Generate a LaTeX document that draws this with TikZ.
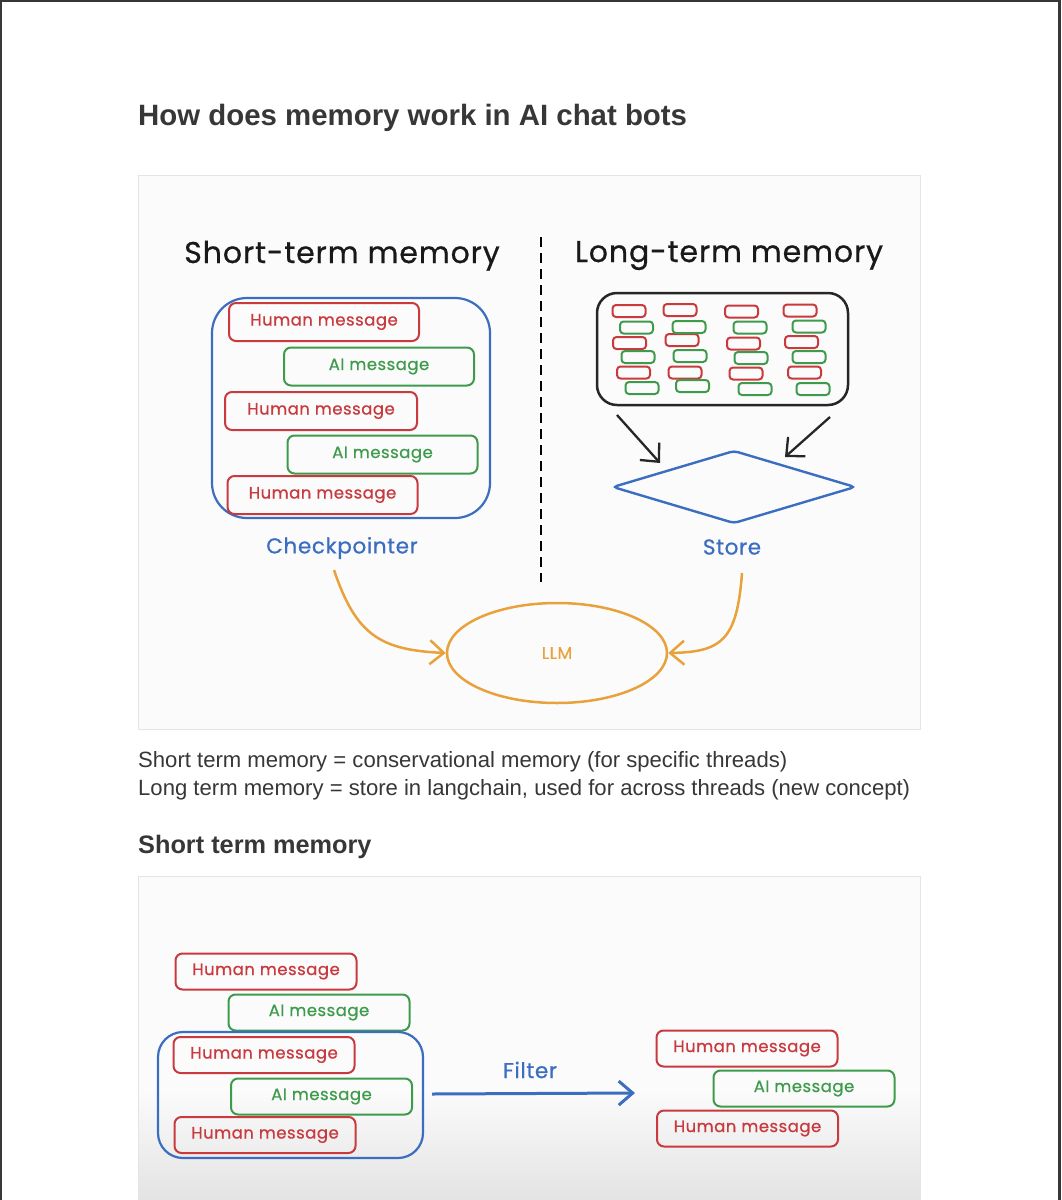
\documentclass[tikz,border=0pt]{standalone}
\usepackage{fontspec}
\setmainfont{Liberation Sans}
\newfontfamily\hand[FakeBold=0.7,LetterSpace=3]{Poppins}
\usetikzlibrary{shapes.geometric,arrows.meta}
\definecolor{msgred}{HTML}{C93A3F}
\definecolor{msggreen}{HTML}{3F9B4C}
\definecolor{sketchblue}{HTML}{3B6DC0}
\definecolor{sketchorange}{HTML}{E9A23B}
\definecolor{pagetext}{HTML}{373737}
\definecolor{frameline}{HTML}{E4E4E4}
\definecolor{imgbg}{HTML}{FBFBFB}
\begin{document}
\begin{tikzpicture}[x=1pt,y=-1pt,
  hmsg/.style={draw=msgred,text=msgred,line width=2pt,rounded corners=7pt,minimum width=190pt,minimum height=38pt,inner sep=0pt,font=\hand\fontsize{16.5}{18}\selectfont},
  amsg/.style={hmsg,draw=msggreen,text=msggreen},
  hmsgb/.style={hmsg,minimum width=181pt,minimum height=36pt},
  amsgb/.style={amsg,minimum width=181pt,minimum height=36pt},
  container/.style={draw=sketchblue,line width=2.2pt,inner sep=0pt},
  rbar/.style={draw=msgred,line width=2pt,rounded corners=3.5pt,minimum width=33pt,minimum height=12pt,inner sep=0pt},
  gbar/.style={rbar,draw=msggreen},
  handtitle/.style={font=\hand\fontsize{30}{32}\selectfont,text=black!90,anchor=base,inner sep=0pt},
  bluelabel/.style={font=\hand\fontsize{21.5}{24}\selectfont,text=sketchblue,inner sep=0pt},
  blackarrow/.style={line width=2.3pt,draw=black!85,-{Straight Barb[length=14pt,width=26pt]}},
  orangearrow/.style={line width=2.5pt,draw=sketchorange,-{Straight Barb[length=14pt,width=24pt]}},
  bluearrow/.style={line width=3pt,draw=sketchblue,-{Straight Barb[length=14pt,width=24pt]}},
  imgframe/.style={draw=frameline,line width=1pt},
  pagebody/.style={font=\fontsize{22.1}{24}\selectfont,text=pagetext,anchor=base west,inner sep=0pt},
  pagehead/.style={font=\bfseries\fontsize{25.3}{28}\selectfont,text=pagetext,anchor=base west,inner sep=0pt}
]
\useasboundingbox (0,0) rectangle (1061,1200);
\fill[white] (0,0) rectangle (1061,1200);
% page frame
\draw[line width=2.5pt,draw=pagetext] (1.2,1200) -- (1.2,1.2) -- (1059.5,1.2) -- (1059.5,1200);

% title
\node[font=\bfseries\fontsize{29.4}{32}\selectfont,text=pagetext,anchor=base west,inner sep=0pt] (title) at (138,125) {How does memory work in AI chat bots};

% ---------- image 1 ----------
\fill[imgbg] (138,175) rectangle (920,729);
\draw[imgframe] (138,175) rectangle (920,729);

\node[handtitle] (stitle) at (342,263) {Short-term memory};
\node[handtitle] (ltitle) at (729,262) {Long-term memory};
\coordinate (dtop) at (541,237);
\coordinate (dbot) at (541,582);
\draw[line width=2.3pt,dash pattern=on 10pt off 6pt] (dtop) -- (dbot);

\node[container,rounded corners=35pt,minimum width=278pt,minimum height=220pt] (stm) at (351,408) {};
\node[hmsg] (h1) at (324,322) {Human message};
\node[amsg] (a1) at (379,366.5) {AI message};
\node[hmsg,minimum width=192pt] (h2) at (321,411) {Human message};
\node[amsg] (a2) at (382.5,454.5) {AI message};
\node[hmsg] (h3) at (322.5,495) {Human message};
\node[bluelabel] (ckpt) at (342,548) {Checkpointer};

% long-term store
\node[draw=black!85,line width=2.5pt,rounded corners=20pt,minimum width=251pt,minimum height=112pt,inner sep=0pt] (ltm) at (722.5,349) {};
\foreach \x/\y [count=\i] in {629/311,629.5/343,633.5/372.5,680/310,682/340,685/372.5,741.5/311.5,743.5/343.5,746/373.5,800/310.5,801.5/342,804.5/372.5}
  \node[rbar] (rb\i) at (\x,\y) {};
\foreach \x/\y [count=\i] in {636.5/327.5,638/357,642/388,689/327,690/356,692.5/386,750/327.5,751/358,755/389,809/326.5,809/357,813/389}
  \node[gbar] (gb\i) at (\x,\y) {};

\node[diamond,draw=sketchblue,line width=2.4pt,rounded corners=4pt,aspect=3.3,minimum width=243pt,minimum height=73pt,inner sep=0pt] (store) at (734,487) {};
\node[bluelabel] (storelbl) at (732,547) {Store};
\coordinate (la0) at (617,415);
\coordinate (la1) at (660,463);
\coordinate (ra0) at (830,417);
\coordinate (ra1) at (785,457);
\draw[blackarrow] (la0) -- (la1);
\draw[blackarrow] (ra0) -- (ra1);

% LLM
\node[ellipse,draw=sketchorange,line width=2.5pt,minimum width=220pt,minimum height=100pt,inner sep=0pt,text=sketchorange,font=\hand\fontsize{17}{18}\selectfont] (llm) at (557,653) {LLM};
\coordinate (oa0) at (334,570);
\coordinate (ob0) at (742,573);
\draw[orangearrow] (oa0) .. controls (356,635) and (380,650) .. (llm.west);
\draw[orangearrow] (ob0) .. controls (737,640) and (722,652) .. (llm.east);

% page text
\node[pagebody] (t1) at (138,767) {Short term memory = conservational memory (for specific threads)};
\node[pagebody] (t2) at (138,795) {Long term memory = store in langchain, used for across threads (new concept)};
\node[pagehead] (h2head) at (138,853) {Short term memory};

% ---------- image 2 ----------
\fill[imgbg] (138,876) rectangle (920,1090);
\shade[top color=imgbg,bottom color=black!11] (138,1090) rectangle (920,1201);
\draw[imgframe] (920,1200) -- (920,876) -- (138,876) -- (138,1200);

\node[hmsgb] (p1) at (266,971.5) {Human message};
\node[amsgb] (p2) at (319,1012.5) {AI message};
\node[container,rounded corners=25pt,minimum width=265pt,minimum height=126pt] (stm2) at (290.5,1095) {};
\node[hmsgb] (p3) at (264,1055) {Human message};
\node[amsgb] (p4) at (321.5,1096.5) {AI message};
\node[hmsgb] (p5) at (265,1135) {Human message};

\coordinate (f0) at (432,1094);
\coordinate (f1) at (635,1093);
\draw[bluearrow] (f0) -- (f1);
\node[bluelabel] (filter) at (530,1070) {Filter};

\node[hmsgb] (q1) at (747,1048.5) {Human message};
\node[amsgb] (q2) at (804,1088.5) {AI message};
\node[hmsgb] (q3) at (747.5,1128.5) {Human message};
\end{tikzpicture}
\end{document}
